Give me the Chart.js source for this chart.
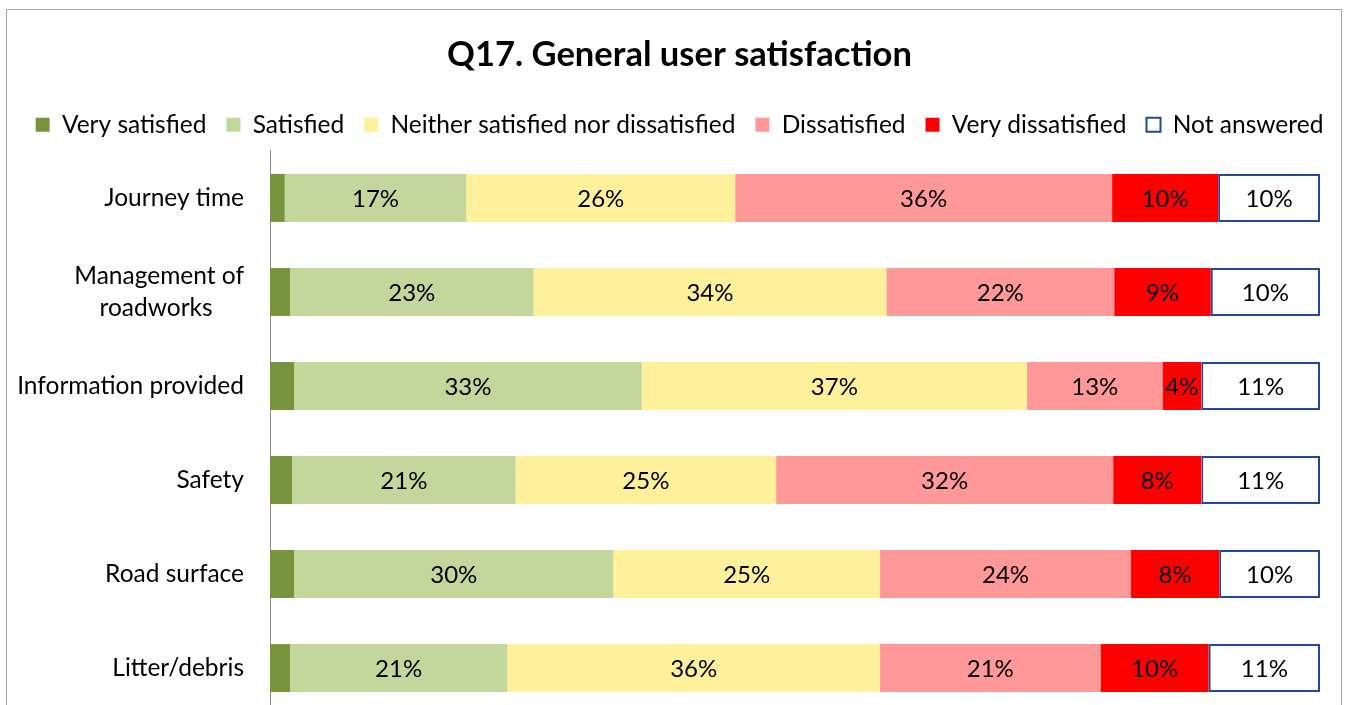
<!DOCTYPE html>
<html>
<head>
<meta charset="utf-8">
<title>Q17. General user satisfaction</title>
<script src="https://cdn.jsdelivr.net/npm/chart.js@4/dist/chart.umd.min.js"></script>
<style>
    html, body { margin: 0; padding: 0; background: #fff; overflow: hidden; }
    #wrap { position: relative; width: 1346px; height: 760px; }
    #frame {
        position: absolute; left: 6px; top: 9px; width: 1336px; height: 800px;
        box-sizing: border-box; border: 1px solid #a6a6a6; pointer-events: none;
    }
</style>
</head>
<body>
<div id="wrap">
    <canvas id="chart" width="1346" height="757"></canvas>
    <div id="frame"></div>
</div>
<script>
// categories, top to bottom
var categories = [
    'Journey time',
    ['Management of', 'roadworks'],
    'Information provided',
    'Safety',
    'Road surface',
    'Litter/debris'
];

// share of answers per category (%)
var verySatisfied    = [1.4, 1.9, 2.3, 2.1, 2.3, 1.9];
var satisfied        = [17.3, 23.2, 33.1, 21.3, 30.4, 20.7];
var neither          = [25.6, 33.6, 36.7, 24.8, 25.4, 35.5];
var dissatisfied     = [35.9, 21.7, 12.9, 32.1, 23.9, 21.0];
var veryDissatisfied = [10.1, 9.2, 3.7, 8.4, 8.4, 10.3];
var notAnswered      = [9.7, 10.4, 11.3, 11.3, 9.6, 10.6];

var FONT = 'Lato, "Noto Sans", sans-serif';
var TICK_SIZE = 24.5;
var VALUE_SIZE = 24;

// pad the shorter lines of a multi-line label so they sit centred under the widest one
function centerLines(lines) {
    if (!Array.isArray(lines)) return lines;
    var c = document.createElement('canvas').getContext('2d');
    c.font = TICK_SIZE + 'px ' + FONT;
    var widest = Math.max.apply(null, lines.map(function(l) { return c.measureText(l).width; }));
    var sp = c.measureText('\u00a0').width;
    return lines.map(function(l) {
        var n = Math.round((widest - c.measureText(l).width) / 2 / sp);
        return l + '\u00a0'.repeat(n);
    });
}

// percentage text in the middle of each segment
var barLabels = {
    id: 'barLabels',
    afterDatasetsDraw: function(chart) {
        var ctx = chart.ctx;
        ctx.save();
        ctx.font = VALUE_SIZE + 'px ' + FONT;
        ctx.fillStyle = '#000';
        ctx.textAlign = 'center';
        ctx.textBaseline = 'middle';
        chart.data.datasets.forEach(function(ds, i) {
            if (ds.noLabel) return;
            chart.getDatasetMeta(i).data.forEach(function(bar, j) {
                var p = bar.getProps(['x', 'y', 'base'], true);
                ctx.fillText(Math.round(ds.data[j]) + '%', (p.x + p.base) / 2, p.y + 1);
            });
        });
        ctx.restore();
    }
};

function series(label, data, color, extra) {
    var ds = {
        label: label,
        data: data,
        backgroundColor: color,
        borderWidth: 0,
        borderSkipped: false,
        categoryPercentage: 1,
        barPercentage: 0.51
    };
    return Object.assign(ds, extra || {});
}

var chart = new Chart(document.getElementById('chart'), {
    type: 'bar',
    data: {
        labels: categories,
        datasets: [
            series('Very satisfied', verySatisfied, '#77933C', { noLabel: true }),
            series('Satisfied', satisfied, '#C3D69B'),
            series('Neither satisfied nor dissatisfied', neither, '#FFF09B'),
            series('Dissatisfied', dissatisfied, '#FF9999'),
            series('Very dissatisfied', veryDissatisfied, '#FF0000'),
            series('Not answered', notAnswered, '#FFFFFF', { borderColor: '#1F4A9C', borderWidth: 2 })
        ]
    },
    options: {
        indexAxis: 'y',
        responsive: false,
        animation: false,
        layout: { padding: { left: 13, right: 0, top: 0, bottom: 15 } },
        scales: {
            x: {
                stacked: true,
                min: 0,
                max: 100,
                position: 'top',
                grid: { display: false },
                border: { display: false },
                ticks: { display: false },
                afterFit: function(s) { s.height = 4; }
            },
            y: {
                stacked: true,
                grid: { display: false, drawTicks: false },
                border: { display: true, color: '#8c8c8c', width: 1 },
                ticks: {
                    color: '#000',
                    padding: 26,
                    font: { family: FONT, size: TICK_SIZE, lineHeight: 1.3 },
                    callback: function(v) { return centerLines(this.getLabelForValue(v)); }
                },
                afterFit: function(s) { s.width = 257; }
            },
            // keeps a margin on the right of the bars
            gap: {
                position: 'right',
                grid: { display: false },
                border: { display: false },
                ticks: { display: false },
                afterFit: function(s) { s.width = 26; }
            }
        },
        plugins: {
            title: {
                display: true,
                text: 'Q17. General user satisfaction',
                color: '#000',
                font: { family: FONT, size: 34.5, weight: 'bold' },
                padding: { top: 34, bottom: 17 }
            },
            legend: {
                position: 'top',
                labels: {
                    color: '#000',
                    boxWidth: 14,
                    boxHeight: 14,
                    padding: 20,
                    font: { family: FONT, size: TICK_SIZE }
                }
            },
            tooltip: { enabled: false }
        }
    },
    plugins: [barLabels]
});
</script>
</body>
</html>
